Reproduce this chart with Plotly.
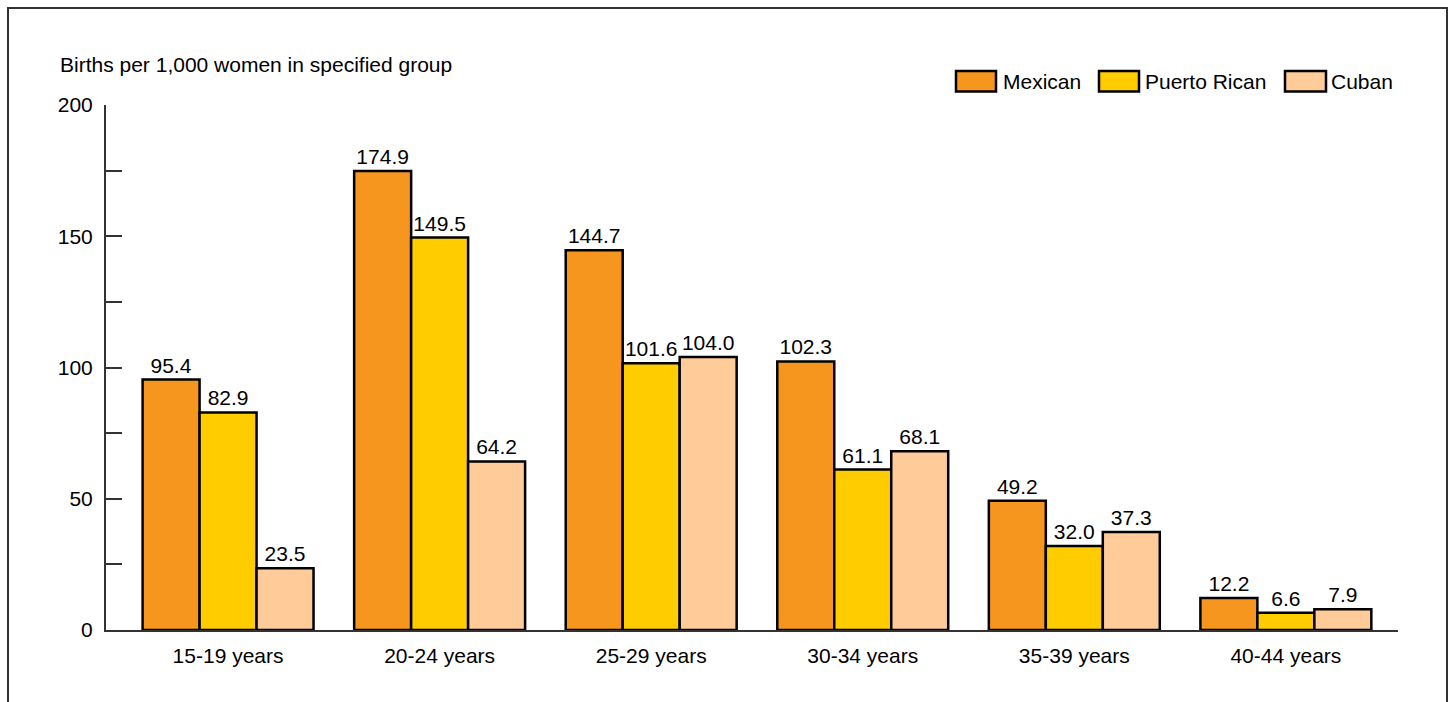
import plotly.graph_objects as go

categories = ["15-19 years", "20-24 years", "25-29 years", "30-34 years", "35-39 years", "40-44 years"]
mexican = [95.4, 174.9, 144.7, 102.3, 49.2, 12.2]
puerto_rican = [82.9, 149.5, 101.6, 61.1, 32.0, 6.6]
cuban = [23.5, 64.2, 104.0, 68.1, 37.3, 7.9]
series_names = ["Mexican", "Puerto Rican", "Cuban"]
colors = ["#F7961F", "#FFCC00", "#FFCC99"]
y_tick_vals = [0, 25, 50, 75, 100, 125, 150, 175, 200]
y_tick_text = ["0", "", "50", "", "100", "", "150", "", "200"]

FONT = "Liberation Sans, Arial, sans-serif"
FS = 21

fig = go.Figure()
for name, vals, col in zip(series_names, [mexican, puerto_rican, cuban], colors):
    fig.add_trace(go.Bar(
        x=categories, y=vals, name=name,
        marker=dict(color=col, line=dict(color="#000000", width=2.5)),
        text=[f"{v:.1f}" for v in vals], textposition="outside",
        textfont=dict(family=FONT, size=FS, color="#000000"),
        cliponaxis=False, showlegend=False,
    ))

W, H = 1455, 702
L, R, T, B = 106, 1398, 105, 630
pw, ph = R - L, B - T

def px(x):
    return (x - L) / pw

def py(y):
    return (B - y) / ph

shapes = [
    dict(type="rect", xref="paper", yref="paper",
         x0=px(8), x1=px(1447), y0=py(760), y1=py(8),
         line=dict(color="#333333", width=2), fillcolor="rgba(0,0,0,0)", layer="below"),
]
annotations = [
    dict(text="Births per 1,000 women in specified group", xref="paper", yref="paper",
         x=px(58), y=py(64), xanchor="left", yanchor="middle", showarrow=False,
         font=dict(family=FONT, size=FS, color="#000000")),
]
leg_x = [(956, 996, 1001), (1099, 1139, 1143), (1285, 1326, 1329)]
for (x0, x1, tx), name, col in zip(leg_x, series_names, colors):
    shapes.append(dict(type="rect", xref="paper", yref="paper",
                       x0=px(x0), x1=px(x1), y0=py(91.5), y1=py(71),
                       line=dict(color="#000000", width=2.5), fillcolor=col))
    annotations.append(dict(text=name, xref="paper", yref="paper", x=px(tx), y=py(81.5),
                            xanchor="left", yanchor="middle", showarrow=False,
                            font=dict(family=FONT, size=FS, color="#000000")))

fig.update_layout(
    width=W, height=H,
    margin=dict(l=L, r=W - R, t=T, b=H - B, pad=0),
    paper_bgcolor="white", plot_bgcolor="white",
    barmode="group", bargap=0.192, bargroupgap=0,
    font=dict(family=FONT, size=FS, color="#000000"),
    shapes=shapes, annotations=annotations,
    xaxis=dict(range=[-0.577, 5.53], showline=True, linecolor="#333333", linewidth=2,
               ticks="", showgrid=False, zeroline=False, ticklabelstandoff=6,
               tickfont=dict(family=FONT, size=FS, color="#000000")),
    yaxis=dict(range=[0, 200], tickvals=y_tick_vals, ticktext=y_tick_text,
               showline=True, linecolor="#333333", linewidth=2,
               ticks="inside", ticklen=16, tickwidth=2, tickcolor="#333333",
               showgrid=False, zeroline=False, ticklabelstandoff=7,
               tickfont=dict(family=FONT, size=FS, color="#000000")),
)

fig.write_html("out.html", config={"displayModeBar": False},
               post_script="document.body.style.margin='0';document.body.style.overflow='hidden';")
